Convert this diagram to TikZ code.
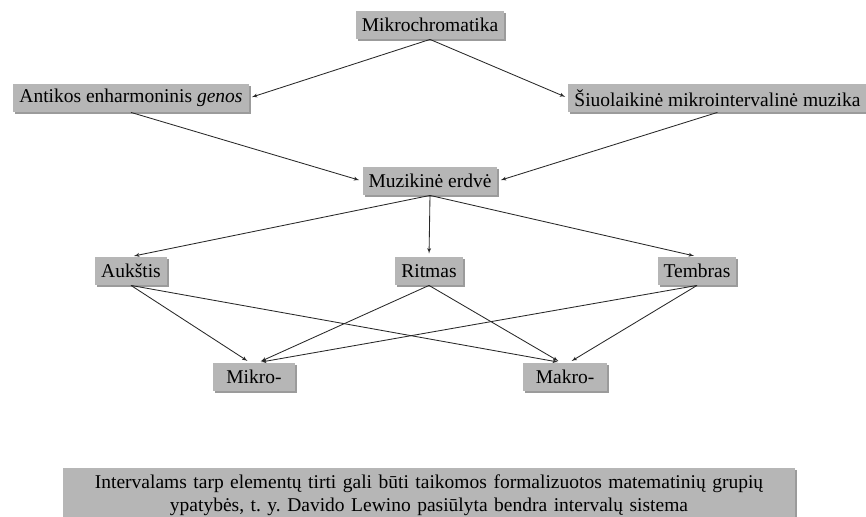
\documentclass[tikz,border=0pt]{standalone}
\usepackage{fontspec}
\setmainfont{Liberation Serif}
\usetikzlibrary{arrows,shadows}
\definecolor{boxgray}{RGB}{182,182,182}
\definecolor{linegray}{RGB}{40,40,40}
\frenchspacing

\begin{document}
\begin{tikzpicture}[->,>=latex',shorten >=3pt,x=1pt,y=-1pt,
                    line width=0.85pt]
  \tikzstyle{every node}=[font=\fontsize{19.5}{23}\selectfont]
  \tikzstyle{every edge}=[draw,linegray]
  \tikzstyle{box}=[fill=boxgray,draw=none,inner xsep=6pt,inner ysep=3pt,
                   minimum height=28pt,
                   drop shadow={shadow xshift=2pt,shadow yshift=-2pt,
                                fill=black!65,opacity=0.6}]
  \useasboundingbox (0,0) rectangle (866,516);

  \node[box] (mc) at (430,25) {Mikrochromatika};
  \node[box] (ant) at (131,98) {Antikos enharmoninis \textit{genos}};
  \node[box,anchor=west] (siu) at (568,98) {Šiuolaikinė mikrointervalinė muzika};
  \node[box] (me) at (430,181) {Muzikinė erdvė};
  \node[box] (auk) at (131,271) {Aukštis};
  \node[box] (rit) at (429,271) {Ritmas};
  \node[box] (tem) at (697,271) {Tembras};
  \node[box,minimum width=82pt] (mik) at (254,377) {Mikro-};
  \node[box,minimum width=84pt] (mak) at (565,377) {Makro-};
  \node[box,anchor=north,text width=720pt,align=center,inner ysep=6pt] (int) at (429,468)
    {Intervalams tarp elementų tirti gali būti taikomos formalizuotos matematinių grupių\\
     ypatybės, t.~y. Davido Lewino pasiūlyta bendra intervalų sistema};

  \path (mc.south) edge (ant.east)
                   edge (siu.west)
        (ant.south) edge (me.west)
        (siu.south) edge (me.east)
        (me.south) edge (auk.north)
                   edge (rit.north)
                   edge (tem.north)
        (auk.south) edge ([xshift=-4pt]mik.north)
                    edge ([xshift=-4pt]mak.north)
        (rit.south) edge ([xshift=4pt]mik.north)
                    edge ([xshift=-4pt]mak.north)
        (tem.south) edge ([xshift=4pt]mik.north)
                    edge ([xshift=4pt]mak.north);
\end{tikzpicture}
\end{document}
